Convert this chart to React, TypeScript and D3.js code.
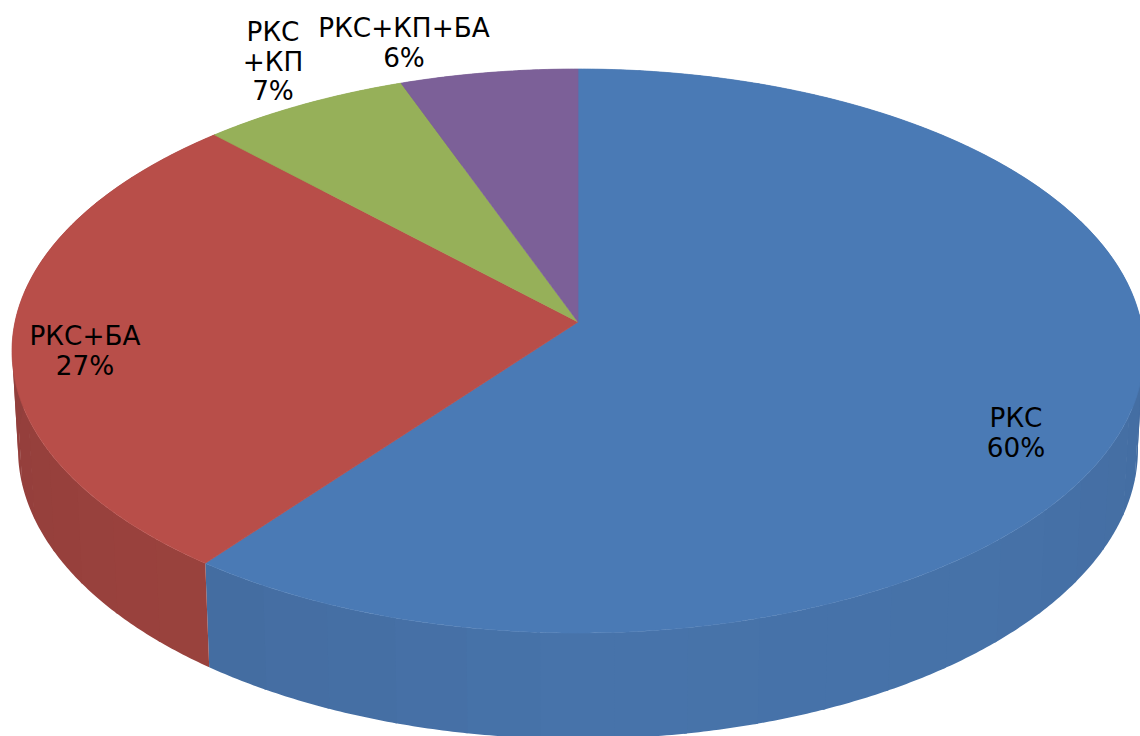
import React from "react";
import * as d3 from "d3";

// Treatment groups and their shares, in percent
const categories = ["РКС", "РКС+БА", "РКС+КП", "РКС+КП+БА"];
const shares = [60.4, 27.4, 6.6, 5.6];
const topColors = ["#4a7ab5", "#b84e49", "#96b059", "#7c6098"];

// Wall shading along the rim, as colour stops per slice (degrees clockwise from the top)
const wallStopAngles = [
  [60, 100, 140, 180, 217],
  [217, 260, 300, 320],
  [0, 360],
  [0, 360],
];
const wallStopColors = [
  ["#436b9f", "#446da2", "#4672a8", "#4773aa", "#446ca0"],
  ["#9a423d", "#943f3c", "#8a3e3d", "#843d3d"],
  ["#7d9448", "#7d9448"],
  ["#654d7e", "#654d7e"],
];

// Label lines are anchored at the centre of each block; y is the first baseline
const labelBlocks = [
  { x: 1016, y: 427, lines: ["РКС"] },
  { x: 85, y: 345, lines: ["РКС+БА"] },
  { x: 273, y: 41, lines: ["РКС", "+КП"] },
  { x: 404, y: 37, lines: ["РКС+КП+БА"] },
];

const WIDTH = 1140;
const HEIGHT = 736;
const FONT_SIZE = 26.3;
const LINE_HEIGHT = 29.6;

// Upper and lower rims of the tilted disc
const topRim = { cx: 578, cy: 351, rx: 566, ry: 282 };
const bottomRim = { cx: 578, cy: 449, rx: 560, ry: 290 };
// Perspective shift: how far the disc centre slides up inside the rim, as a fraction of ry
const SHIFT = -0.103;

type Rim = typeof topRim;

// Projects a clockwise-from-top angle (radians) onto a rim, keeping the perspective shift
function project(angle: number, rim: Rim): [number, number] {
  const u = Math.sin(angle);
  const v = -Math.cos(angle);
  const k = 1 + SHIFT * v;
  const pv = (v + SHIFT) / k;
  const pu = (u * Math.sqrt(1 - SHIFT * SHIFT)) / k;
  return [rim.cx + rim.rx * pu, rim.cy + rim.ry * pv];
}

const apex: [number, number] = [topRim.cx, topRim.cy + SHIFT * topRim.ry];

const toRad = (deg: number) => (deg * Math.PI) / 180;
const toDeg = (rad: number) => (rad * 180) / Math.PI;
const linePath = d3.line<[number, number]>();

function arcAngles(a0: number, a1: number, stepDeg = 0.5): number[] {
  const n = Math.max(2, Math.ceil((toDeg(a1) - toDeg(a0)) / stepDeg));
  return d3.range(n + 1).map((i) => a0 + ((a1 - a0) * i) / n);
}

const pie = d3
  .pie<number>()
  .sort(null)
  .startAngle(0)
  .endAngle(2 * Math.PI);

const BAND_DEG = 7;

export default function App() {
  const arcs = pie(shares);

  const walls = arcs.flatMap((arc, i) => {
    const shade = d3
      .scaleLinear<string>()
      .domain(wallStopAngles[i])
      .range(wallStopColors[i])
      .clamp(true);
    const startDeg = toDeg(arc.startAngle);
    const endDeg = toDeg(arc.endAngle);
    const count = Math.max(1, Math.ceil((endDeg - startDeg) / BAND_DEG));
    return d3.range(count).map((b) => {
      const from = startDeg + ((endDeg - startDeg) * b) / count;
      const to = startDeg + ((endDeg - startDeg) * (b + 1)) / count;
      // Bands overlap a little so no hairline shows between them
      const reach = Math.min(endDeg, to + 0.3);
      const angles = arcAngles(toRad(from), toRad(reach));
      const pts = [
        ...angles.map((a) => project(a, topRim)),
        ...angles.slice().reverse().map((a) => project(a, bottomRim)),
      ];
      return {
        key: `${i}-${b}`,
        d: linePath(pts) + "Z",
        fill: shade((from + to) / 2),
      };
    });
  });

  const faces = arcs.map((arc, i) => ({
    key: categories[i],
    d:
      linePath([
        apex,
        ...arcAngles(arc.startAngle, arc.endAngle).map((a) => project(a, topRim)),
      ]) + "Z",
    fill: topColors[i],
  }));

  return (
    <svg
      width={WIDTH}
      height={HEIGHT}
      viewBox={`0 0 ${WIDTH} ${HEIGHT}`}
      style={{ position: "absolute", left: 0, top: 0, background: "#fff" }}
    >
      <g>
        {walls.map((w) => (
          <path key={w.key} d={w.d} fill={w.fill} />
        ))}
      </g>
      <g>
        {faces.map((f) => (
          // A hairline stroke in the fill colour closes the seams between slices
          <path key={f.key} d={f.d} fill={f.fill} stroke={f.fill} strokeWidth={0.7} strokeLinejoin="round" />
        ))}
      </g>
      <g
        fontFamily="'DejaVu Sans', sans-serif"
        fontSize={FONT_SIZE}
        fill="#000"
        textAnchor="middle"
      >
        {labelBlocks.map((block, i) => (
          <text key={categories[i]} x={block.x} y={block.y}>
            {[...block.lines, `${Math.round(shares[i])}%`].map((line, j) => (
              <tspan key={j} x={block.x} dy={j === 0 ? 0 : LINE_HEIGHT}>
                {line}
              </tspan>
            ))}
          </text>
        ))}
      </g>
    </svg>
  );
}
